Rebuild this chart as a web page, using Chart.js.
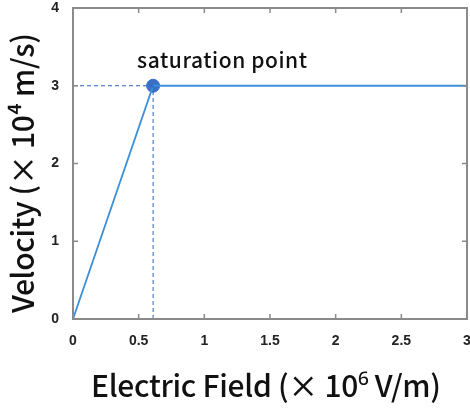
<!DOCTYPE html>
<html>
<head>
<meta charset="utf-8">
<script src="https://cdn.jsdelivr.net/npm/chart.js@4"></script>
<style>
  html, body { margin: 0; padding: 0; background: #fff; }
  #wrap { width: 470px; height: 408px; }
</style>
</head>
<body>
<div id="wrap"><canvas id="chart"></canvas></div>
<script>
// velocity saturation curve
const fieldValues = [0, 0.61, 3];
const velocityValues = [0, 3, 3];
const satField = 0.61;
const satVelocity = 3;
const xTicks = [0, 0.5, 1, 1.5, 2, 2.5, 3];
const yTicks = [0, 1, 2, 3, 4];

const xTitle = 'Electric Field (× 10⁶ V/m)';
const yTitle = 'Velocity (× 10⁴ m/s)';
const noteText = 'saturation point';

const axisGray = '#8a8a8a';
const lineBlue = '#3d8fd8';
const dashBlue = '#2f62c0';
const titleFont = '"Noto Sans CJK SC", "Open Sans"';

// draw text stretched to a given width (reference font is wider)
function fitText(ctx, text, x, y, width) {
    ctx.letterSpacing = '0px';
    const w = ctx.measureText(text).width;
    const sp = (width - w) / (text.length - 1);
    ctx.letterSpacing = sp + 'px';
    ctx.fillText(text, x + sp / 2, y);
    ctx.letterSpacing = '0px';
}

// box around plot + inward ticks + titles
const boxPlugin = {
    id: 'box',
    afterDraw(chart) {
        const { ctx, chartArea: a, scales } = chart;
        ctx.save();
        ctx.strokeStyle = axisGray;
        ctx.lineWidth = 2;
        ctx.strokeRect(a.left, a.top, a.right - a.left, a.bottom - a.top);
        ctx.lineWidth = 1.5;
        const len = 5;
        ctx.beginPath();
        xTicks.forEach(v => {
            const px = scales.x.getPixelForValue(v);
            ctx.moveTo(px, a.bottom); ctx.lineTo(px, a.bottom - len);
            ctx.moveTo(px, a.top); ctx.lineTo(px, a.top + len);
        });
        yTicks.forEach(v => {
            const py = scales.y.getPixelForValue(v);
            ctx.moveTo(a.left, py); ctx.lineTo(a.left + len, py);
            ctx.moveTo(a.right, py); ctx.lineTo(a.right - len, py);
        });
        ctx.stroke();

        ctx.fillStyle = '#111';
        ctx.textAlign = 'center';
        ctx.textBaseline = 'alphabetic';
        ctx.font = '500 21px ' + titleFont;
        fitText(ctx, noteText, 222, 68, 170);

        ctx.font = '500 30px ' + titleFont;
        fitText(ctx, xTitle, 266, 397, 350);
        ctx.translate(34, 173);
        ctx.rotate(-Math.PI / 2);
        fitText(ctx, yTitle, 0, 0, 280);
        ctx.restore();
    }
};

const toPts = (xs, ys) => xs.map((x, i) => ({ x: x, y: ys[i] }));

new Chart(document.getElementById('chart'), {
    type: 'scatter',
    data: {
        datasets: [
            {
                data: [{ x: 0, y: satVelocity }, { x: satField, y: satVelocity }],
                showLine: true,
                borderColor: dashBlue,
                borderWidth: 1,
                borderDash: [4, 3],
                pointRadius: 0
            },
            {
                data: [{ x: satField, y: 0 }, { x: satField, y: satVelocity }],
                showLine: true,
                borderColor: dashBlue,
                borderWidth: 1,
                borderDash: [4, 3],
                pointRadius: 0
            },
            {
                data: toPts(fieldValues, velocityValues),
                showLine: true,
                borderColor: lineBlue,
                borderWidth: 1.8,
                pointRadius: 0
            },
            {
                data: [{ x: satField, y: satVelocity }],
                pointRadius: 6.5,
                pointBackgroundColor: '#3a6fc8',
                pointBorderColor: '#3a6fc8'
            }
        ]
    },
    options: {
        responsive: true,
        maintainAspectRatio: false,
        animation: false,
        layout: { autoPadding: false, padding: { top: 8, right: 3, left: 0, bottom: 0 } },
        plugins: { legend: { display: false }, tooltip: { enabled: false } },
        scales: {
            x: {
                type: 'linear',
                min: 0, max: 3,
                grid: { display: false },
                border: { display: false },
                afterBuildTicks: s => { s.ticks = xTicks.map(v => ({ value: v })); },
                afterFit: s => { s.height = 89; s.paddingLeft = 0; s.paddingRight = 0; },
                ticks: {
                    color: '#222',
                    padding: 6,
                    maxRotation: 0,
                    font: { family: '"Liberation Sans"', size: 14, weight: 'bold' },
                    callback: v => String(v)
                }
            },
            y: {
                type: 'linear',
                min: 0, max: 4,
                grid: { display: false },
                border: { display: false },
                afterBuildTicks: s => { s.ticks = yTicks.map(v => ({ value: v })); },
                afterFit: s => { s.width = 73; s.paddingTop = 0; s.paddingBottom = 0; },
                ticks: {
                    color: '#222',
                    padding: 6,
                    font: { family: '"Liberation Sans"', size: 14, weight: 'bold' },
                    callback: v => String(v)
                }
            }
        }
    },
    plugins: [boxPlugin]
});
</script>
</body>
</html>
